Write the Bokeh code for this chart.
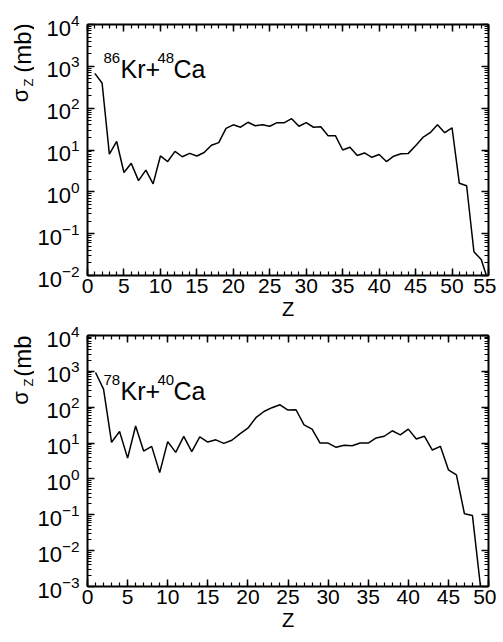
import math
from bokeh.plotting import figure
from bokeh.models import LinearAxis, LogAxis, FixedTicker, Label, Range1d
from bokeh.layouts import column, row
from bokeh.embed import file_html
from bokeh.resources import INLINE

# ---------------- data ----------------
z_top = list(range(1, 56))
sigma_top = [680, 400, 8, 16, 2.9, 4.8, 1.85, 3.3, 1.55, 7.2,
             5.3, 9.3, 6.9, 8.3, 7.2, 8.7, 13, 15, 33, 40,
             35, 46, 38, 40, 37, 45, 45, 56, 37, 45,
             35, 36, 22, 22, 10, 11.6, 7.4, 8.5, 6.7, 7.8,
             5.3, 7.1, 8.1, 8.3, 12.7, 20, 26, 40, 26, 34,
             1.6, 1.4, 0.037, 0.024, 0.007]

z_bot = list(range(1, 50))
sigma_bot = [930, 320, 10.5, 21, 3.8, 30, 6, 8.1, 1.5, 11,
             5.5, 15.4, 5.8, 14.8, 10.7, 12.3, 9.8, 12, 18, 26,
             51, 76, 97, 117, 83, 85, 32, 24.5, 10, 10,
             7.6, 8.7, 8.4, 10, 10, 13.9, 15.5, 22, 17, 24.5,
             13, 15.5, 6.4, 8.1, 1.8, 1.3, 0.107, 0.095, 0.001]

x_major_top = list(range(0, 56, 5))
x_minor_top = list(range(0, 56))
x_major_bot = list(range(0, 51, 5))
x_minor_bot = list(range(0, 51))

top_exponents = list(range(-2, 5))
bot_exponents = list(range(-3, 5))

FONT = "Liberation Sans"
LAB_W = 34


def log_ticks(exps):
    major = [10.0 ** e for e in exps]
    minor = [m * 10.0 ** e for e in exps[:-1] for m in range(1, 10)]
    return major, minor


def style_axis(ax, labels=True, size="20px", standoff=5):
    ax.axis_line_color = "black"
    ax.axis_line_width = 2
    ax.major_tick_line_color = "black"
    ax.major_tick_line_width = 1.5
    ax.minor_tick_line_color = "black"
    ax.minor_tick_line_width = 1.2
    ax.major_tick_in = 7
    ax.major_tick_out = 0
    ax.minor_tick_in = 4
    ax.minor_tick_out = 0
    ax.major_label_text_font = FONT
    if labels:
        ax.major_label_text_color = "black"
        ax.major_label_text_font_size = size
        ax.major_label_standoff = standoff
    else:
        ax.major_label_text_color = None
        ax.major_label_text_font_size = "1px"
        ax.major_label_standoff = 0


def make_panel(z, s, xmax, xmaj, xmin, exps, height, border_top, border_bottom,
               sup1, sup2, ann_base):
    ymaj, ymin = log_ticks(exps)
    p = figure(width=496 - LAB_W, height=height,
               x_range=Range1d(0, xmax),
               y_range=Range1d(10.0 ** exps[0], 10.0 ** exps[-1]),
               y_axis_type="log", output_backend="svg", toolbar_location=None,
               min_border_left=84 - LAB_W, min_border_right=8,
               min_border_top=border_top, min_border_bottom=border_bottom,
               outline_line_color=None,
               background_fill_color="white", border_fill_color="white")
    p.grid.visible = False

    xt = FixedTicker(ticks=xmaj, minor_ticks=xmin)
    yt = FixedTicker(ticks=ymaj, minor_ticks=ymin)

    p.xaxis[0].ticker = xt
    p.yaxis[0].ticker = yt
    style_axis(p.xaxis[0], True, "21px", 3)
    style_axis(p.yaxis[0], True, "22px", 8)
    p.xaxis[0].axis_label = "Z"
    p.xaxis[0].axis_label_text_font = FONT
    p.xaxis[0].axis_label_text_font_size = "20px"
    p.xaxis[0].axis_label_text_font_style = "normal"
    p.xaxis[0].axis_label_text_color = "black"
    p.xaxis[0].axis_label_standoff = 2

    top = LinearAxis(ticker=xt)
    style_axis(top, False)
    p.add_layout(top, "above")
    right = LogAxis(ticker=yt)
    style_axis(right, False)
    p.add_layout(right, "right")

    p.line(z, s, line_color="black", line_width=1.5)

    # reaction annotation
    big = "25px"
    small = "15px"
    common = dict(x_units="screen", y_units="screen", text_font=FONT,
                  text_color="black", text_baseline="alphabetic")
    p.add_layout(Label(x=16, y=ann_base + 11, text=sup1, text_font_size=small, **common))
    p.add_layout(Label(x=33, y=ann_base, text="Kr+", text_font_size=big, **common))
    p.add_layout(Label(x=70, y=ann_base + 11, text=sup2, text_font_size=small, **common))
    p.add_layout(Label(x=86, y=ann_base, text="Ca", text_font_size=big, **common))
    return p


def make_ylabel(height, sigma_c, z_c, mb_c):
    # small side figure (no axes) holding the rotated axis title sigma_Z (mb)
    f = figure(width=LAB_W, height=height, x_range=Range1d(0, LAB_W),
               y_range=Range1d(0, height), min_border=0,
               x_axis_location=None, y_axis_location=None,
               output_backend="svg", toolbar_location=None,
               outline_line_color=None, border_fill_color="white",
               background_fill_color="white")
    f.grid.visible = False
    opts = dict(x_units="screen", y_units="screen", angle=math.pi / 2,
                text_font=FONT, text_color="black",
                text_align="center", text_baseline="middle")
    f.add_layout(Label(x=19.5, y=height - sigma_c, text="σ",
                       text_font_size="22px", **opts))
    f.add_layout(Label(x=27.5, y=height - z_c, text="Z",
                       text_font_size="13px", **opts))
    f.add_layout(Label(x=21.5, y=height - mb_c, text="(mb)",
                       text_font_size="24px", **opts))
    return f


H1, H2 = 325, 317
p1 = make_panel(z_top, sigma_top, 55, x_major_top, x_minor_top, top_exponents,
                H1, 24, H1 - 24 - 251, "86", "48", 207)
p2 = make_panel(z_bot, sigma_bot, 50, x_major_bot, x_minor_bot, bot_exponents,
                H2, 10, H2 - 10 - 251, "78", "40", 196)
l1 = make_ylabel(H1, 145, 132, 97.5)
l2 = make_ylabel(H2, 128.5, 113, 82.5)

layout = column(row(l1, p1, spacing=0), row(l2, p2, spacing=0), spacing=0)
open("out.html", "w").write(file_html(layout, INLINE))
